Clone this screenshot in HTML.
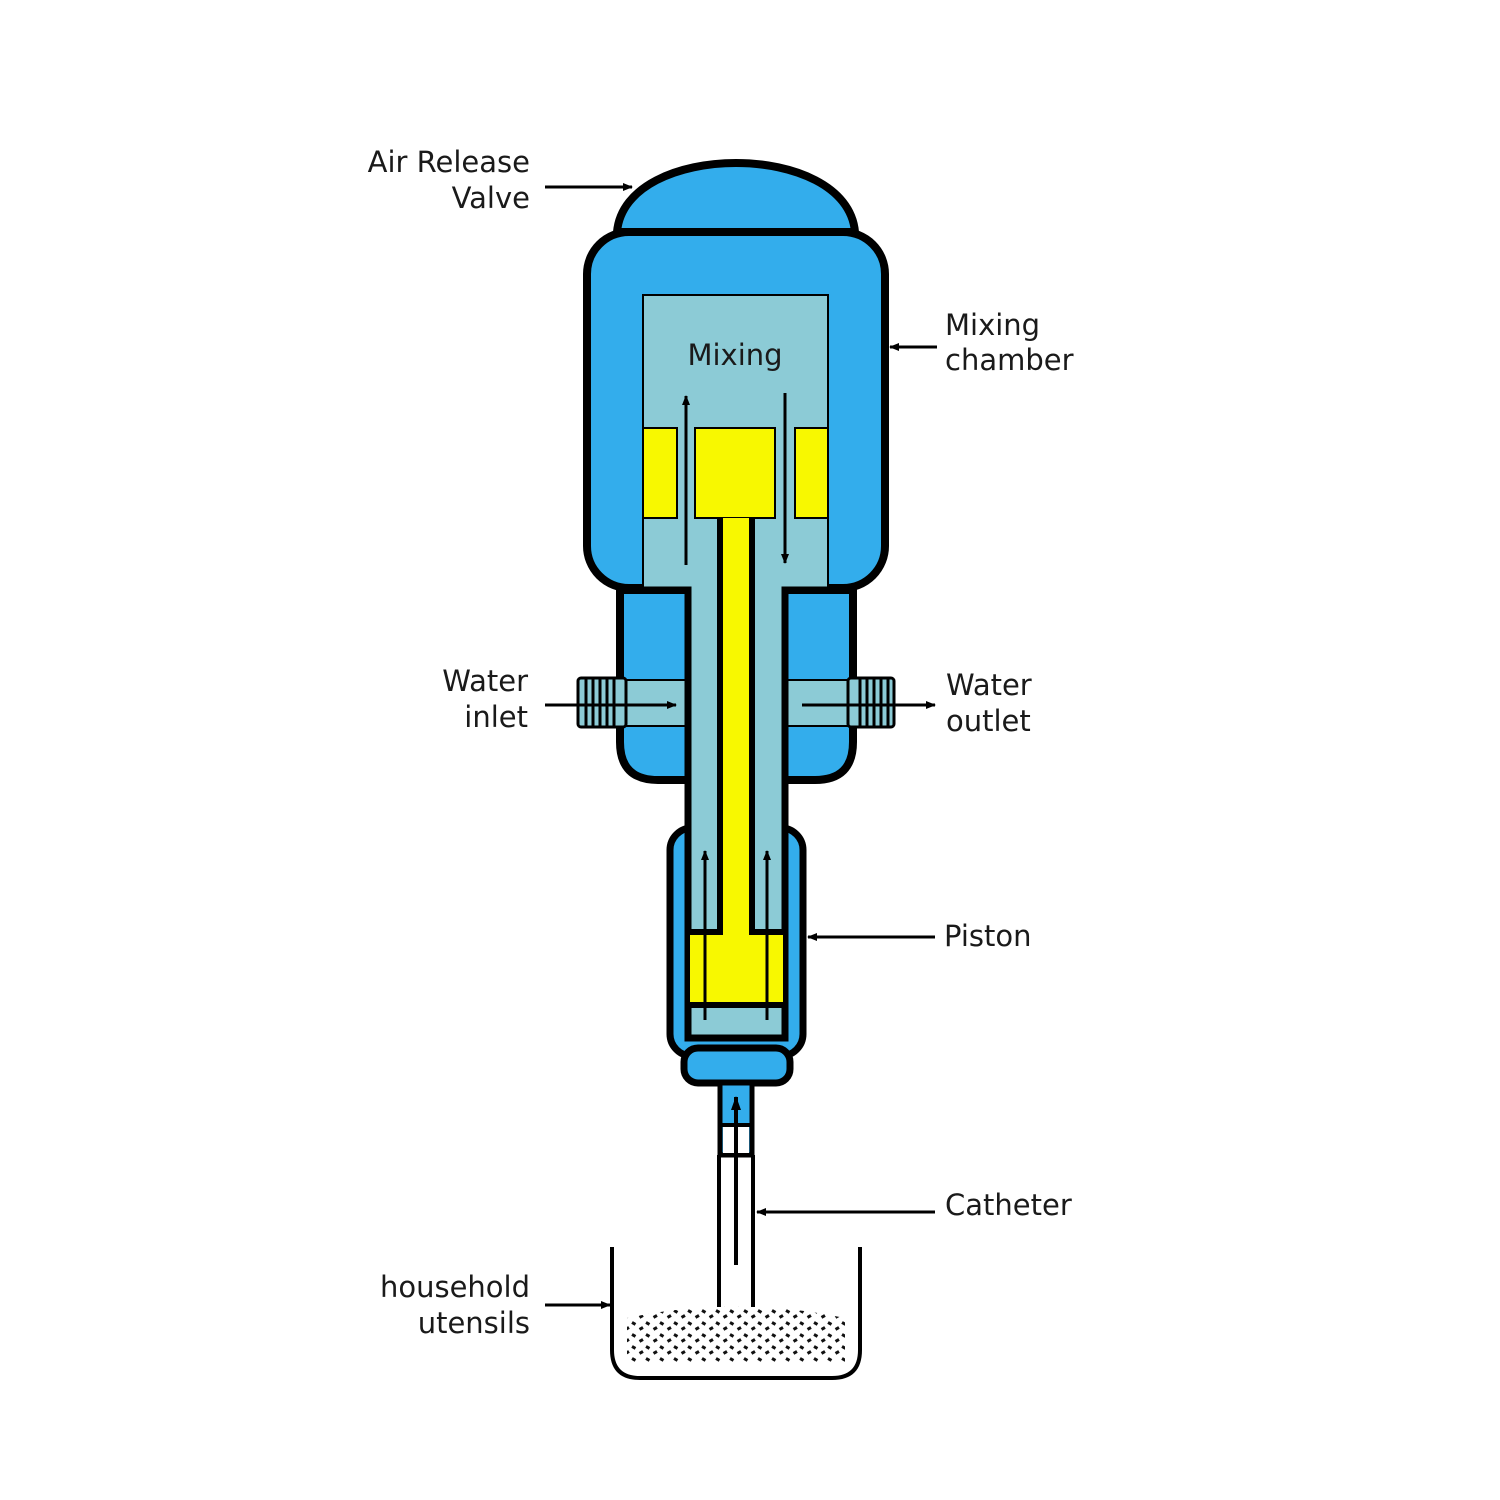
<!DOCTYPE html>
<html><head><style>
html,body{margin:0;padding:0;background:#fff;}
svg{display:block}
text{font-family:"DejaVu Sans","Liberation Sans",sans-serif;font-size:29px;fill:#1a1a1a}
</style></head><body>
<svg width="1500" height="1500" viewBox="0 0 1500 1500" xmlns="http://www.w3.org/2000/svg">
<defs>
<marker id="ah" markerWidth="10" markerHeight="10" refX="9" refY="5" orient="auto" markerUnits="userSpaceOnUse">
<path d="M0,1 L10,5 L0,9 Z" fill="#000"/></marker>
<marker id="ah2" markerWidth="14" markerHeight="14" refX="13" refY="7" orient="auto" markerUnits="userSpaceOnUse">
<path d="M0,2 L14,7 L0,12 Z" fill="#000"/></marker>
<pattern id="dots" width="14" height="12" patternUnits="userSpaceOnUse">
<rect x="2" y="2" width="4" height="3" fill="#111" transform="rotate(30 4 3)"/>
<rect x="9" y="7" width="4" height="3" fill="#111" transform="rotate(-30 11 8)"/>
</pattern>
</defs>

<!-- lower body (square top) -->
<path d="M620,590 L853,590 L853,742 Q853,780 815,780 L658,780 Q620,780 620,742 Z" fill="#33adec" stroke="#000" stroke-width="8"/>
<!-- dome -->
<path d="M617,232 C625,140 847,140 855,232 Z" fill="#33adec" stroke="#000" stroke-width="8"/>
<!-- upper body -->
<rect x="587" y="232" width="298" height="356" rx="42" fill="#33adec" stroke="#000" stroke-width="8"/>
<!-- mixing chamber -->
<rect x="643" y="295" width="185" height="295" fill="#8ccbd6" stroke="#000" stroke-width="2"/>
<rect x="643" y="428" width="34" height="90" fill="#f8f800" stroke="#000" stroke-width="2"/>
<rect x="695" y="428" width="80" height="90" fill="#f8f800" stroke="#000" stroke-width="2"/>
<rect x="795" y="428" width="33" height="90" fill="#f8f800" stroke="#000" stroke-width="2"/>

<!-- ports -->
<rect x="620" y="680" width="233" height="46" fill="#8ccbd6" stroke="#000" stroke-width="2"/>
<rect x="578" y="678" width="48" height="49" rx="3" fill="#8ccbd6" stroke="#000" stroke-width="3"/>
<rect x="848" y="678" width="46" height="49" rx="3" fill="#8ccbd6" stroke="#000" stroke-width="3"/>
<g stroke="#000" stroke-width="3">
<line x1="586" y1="678" x2="586" y2="727"/><line x1="593" y1="678" x2="593" y2="727"/><line x1="600" y1="678" x2="600" y2="727"/><line x1="607" y1="678" x2="607" y2="727"/><line x1="614" y1="678" x2="614" y2="727"/>
<line x1="860" y1="678" x2="860" y2="727"/><line x1="867" y1="678" x2="867" y2="727"/><line x1="874" y1="678" x2="874" y2="727"/><line x1="881" y1="678" x2="881" y2="727"/><line x1="888" y1="678" x2="888" y2="727"/>
</g>

<!-- piston housing -->
<rect x="670" y="828" width="133" height="228" rx="22" fill="#33adec" stroke="#000" stroke-width="7"/>
<rect x="684" y="1048" width="106" height="35" rx="14" fill="#33adec" stroke="#000" stroke-width="7"/>
<!-- stem channel -->
<rect x="688" y="588" width="97" height="450" fill="#8ccbd6"/>
<path d="M643,590 L688,590 L688,1038 L785,1038 L785,590 L828,590" fill="none" stroke="#000" stroke-width="7"/>
<!-- piston -->
<path d="M690,932 L720,932 L720,518 L752,518 L752,932 L783,932 L783,1005 L690,1005 Z" fill="#f8f800"/>
<path d="M690,932 L720,932 L720,518 M752,518 L752,932 L783,932" fill="none" stroke="#000" stroke-width="6"/>
<line x1="688" y1="1005" x2="785" y2="1005" stroke="#000" stroke-width="6"/>

<!-- small tube -->
<rect x="720" y="1083" width="32" height="72" fill="#33adec" stroke="#000" stroke-width="5"/>
<rect x="723" y="1125" width="26" height="28" fill="#fff"/>
<line x1="720" y1="1125" x2="752" y2="1125" stroke="#000" stroke-width="4"/>
<line x1="718" y1="1155" x2="754" y2="1155" stroke="#000" stroke-width="4"/>
<line x1="719" y1="1155" x2="719" y2="1307" stroke="#000" stroke-width="4"/>
<line x1="753" y1="1155" x2="753" y2="1307" stroke="#000" stroke-width="4"/>
<line x1="736" y1="1265" x2="736" y2="1097" stroke="#000" stroke-width="4" marker-end="url(#ah2)"/>

<!-- beaker -->
<path d="M612,1247 L612,1350 Q612,1378 640,1378 L832,1378 Q860,1378 860,1350 L860,1247" fill="none" stroke="#000" stroke-width="4"/>
<path d="M627,1318 Q735,1295 845,1318 L845,1362 L627,1362 Z" fill="url(#dots)"/>

<!-- flow arrows -->
<g stroke="#000" stroke-width="3">
<line x1="686" y1="565" x2="686" y2="396" marker-end="url(#ah)"/>
<line x1="785" y1="393" x2="785" y2="563" marker-end="url(#ah)"/>
<line x1="705" y1="1020" x2="705" y2="851" marker-end="url(#ah)"/>
<line x1="767" y1="1020" x2="767" y2="851" marker-end="url(#ah)"/>
<line x1="545" y1="187" x2="632" y2="187" marker-end="url(#ah)"/>
<line x1="937" y1="347" x2="890" y2="347" marker-end="url(#ah)"/>
<line x1="545" y1="705" x2="676" y2="705" marker-end="url(#ah)"/>
<line x1="802" y1="705" x2="935" y2="705" marker-end="url(#ah)"/>
<line x1="935" y1="937" x2="808" y2="937" marker-end="url(#ah)"/>
<line x1="935" y1="1212" x2="757" y2="1212" marker-end="url(#ah)"/>
<line x1="545" y1="1305" x2="610" y2="1305" marker-end="url(#ah)"/>
</g>

<text x="735" y="365" text-anchor="middle">Mixing</text>
<text x="530" y="172" text-anchor="end">Air Release</text>
<text x="530" y="208" text-anchor="end">Valve</text>
<text x="945" y="335">Mixing</text>
<text x="945" y="370">chamber</text>
<text x="528" y="691" text-anchor="end">Water</text>
<text x="528" y="727" text-anchor="end">inlet</text>
<text x="946" y="695">Water</text>
<text x="946" y="731">outlet</text>
<text x="944" y="946">Piston</text>
<text x="945" y="1215">Catheter</text>
<text x="530" y="1297" text-anchor="end">household</text>
<text x="530" y="1333" text-anchor="end">utensils</text>
</svg>
</body></html>
